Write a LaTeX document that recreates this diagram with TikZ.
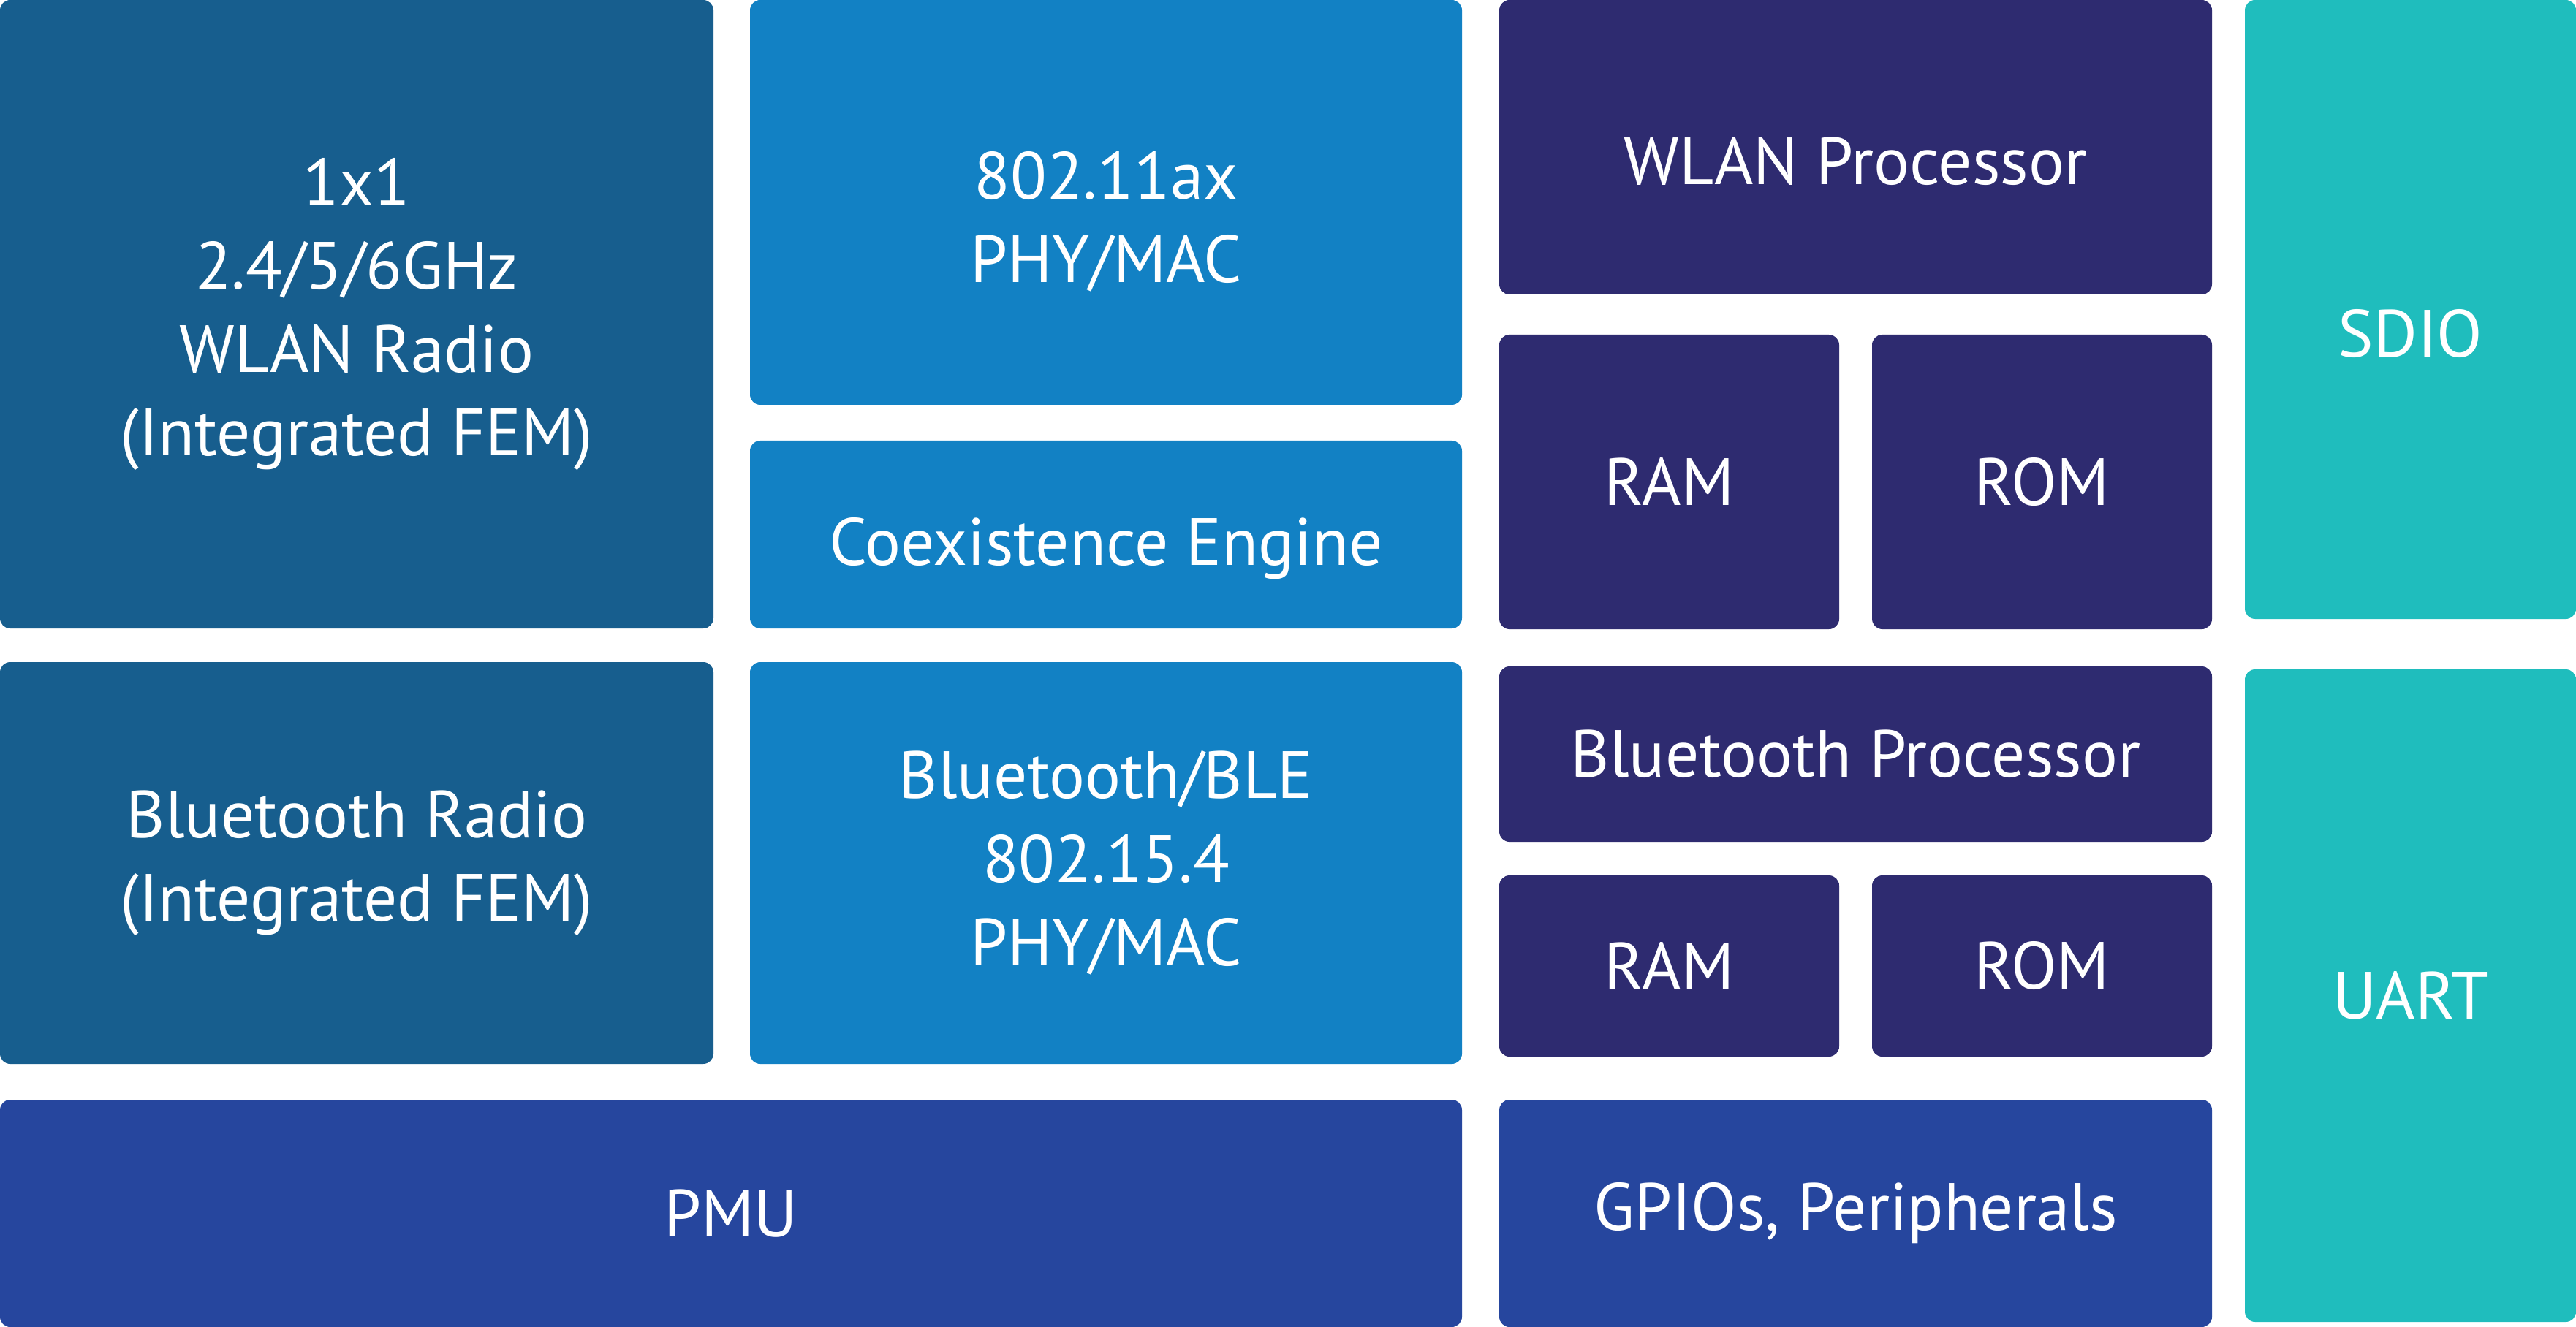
\documentclass[tikz,border=0pt]{standalone}
\usepackage{fontspec}
\setmainfont{PT Sans}
\definecolor{funk}{HTML}{175E8E}
\definecolor{phymac}{HTML}{1281C4}
\definecolor{proz}{HTML}{2E2B70}
\definecolor{versorg}{HTML}{26469E}
\definecolor{schnitt}{HTML}{1FBDBD}
\begin{document}
\begin{tikzpicture}[
	blk/.style={rounded corners=1.4mm, text=white, align=center, inner sep=0pt,
		font=\fontsize{26}{32.5}\selectfont},
	funkbox/.style={blk, fill=funk},
	phybox/.style={blk, fill=phymac},
	cpubox/.style={blk, fill=proz},
	pmubox/.style={blk, fill=versorg},
	ifbox/.style={blk, fill=schnitt}
	]
	
	\useasboundingbox (0,0) rectangle (35.24,-18.16);
	
	% Funkteile
	\node[funkbox, minimum width=9.76cm, minimum height=8.60cm] (wlanradio) at (4.88,-4.30)
		{1x1\\2.4/5/6GHz\\WLAN Radio\\(Integrated FEM)};
	\node[funkbox, minimum width=9.76cm, minimum height=5.50cm] (btradio) at (4.88,-11.81)
		{Bluetooth Radio\\(Integrated FEM)};
	
	% PHY/MAC
	\node[phybox, minimum width=9.74cm, minimum height=5.54cm, text height=2.19cm, text depth=0pt]
		(wlanphy) at (15.13,-2.77) {802.11ax\\PHY/MAC};
	\node[phybox, minimum width=9.74cm, minimum height=2.57cm, text height=0.84cm, text depth=0pt]
		(coex) at (15.13,-7.315) {Coexistence Engine};
	\node[phybox, minimum width=9.74cm, minimum height=5.50cm] (btphy) at (15.13,-11.81)
		{Bluetooth/BLE\\802.15.4\\PHY/MAC};
	
	% Prozessoren mit Speicher
	\node[cpubox, minimum width=9.75cm, minimum height=4.03cm, text height=1.02cm, text depth=0pt]
		(wlancpu) at (25.385,-2.015) {WLAN Processor};
	\node[cpubox, minimum width=4.65cm, minimum height=4.03cm] (wlanram) at (22.835,-6.595) {RAM};
	\node[cpubox, minimum width=4.65cm, minimum height=4.03cm] (wlanrom) at (27.935,-6.595) {ROM};
	\node[cpubox, minimum width=9.75cm, minimum height=2.40cm] (btcpu) at (25.385,-10.32)
		{Bluetooth Processor};
	\node[cpubox, minimum width=4.65cm, minimum height=2.48cm] (btram) at (22.835,-13.22) {RAM};
	\node[cpubox, minimum width=4.65cm, minimum height=2.48cm] (btrom) at (27.935,-13.22) {ROM};
	
	% Versorgung und Peripherie
	\node[pmubox, minimum width=20.00cm, minimum height=3.11cm] (pmu) at (10.00,-16.605) {PMU};
	\node[pmubox, minimum width=9.75cm, minimum height=3.11cm] (gpio) at (25.385,-16.605)
		{GPIOs, Peripherals};
	
	% Schnittstellen
	\node[ifbox, minimum width=4.53cm, minimum height=8.47cm, text height=1.31cm, text depth=0pt]
		(sdio) at (32.975,-4.235) {SDIO};
	\node[ifbox, minimum width=4.53cm, minimum height=8.93cm] (uart) at (32.975,-13.625) {UART};
	
\end{tikzpicture}
\end{document}
